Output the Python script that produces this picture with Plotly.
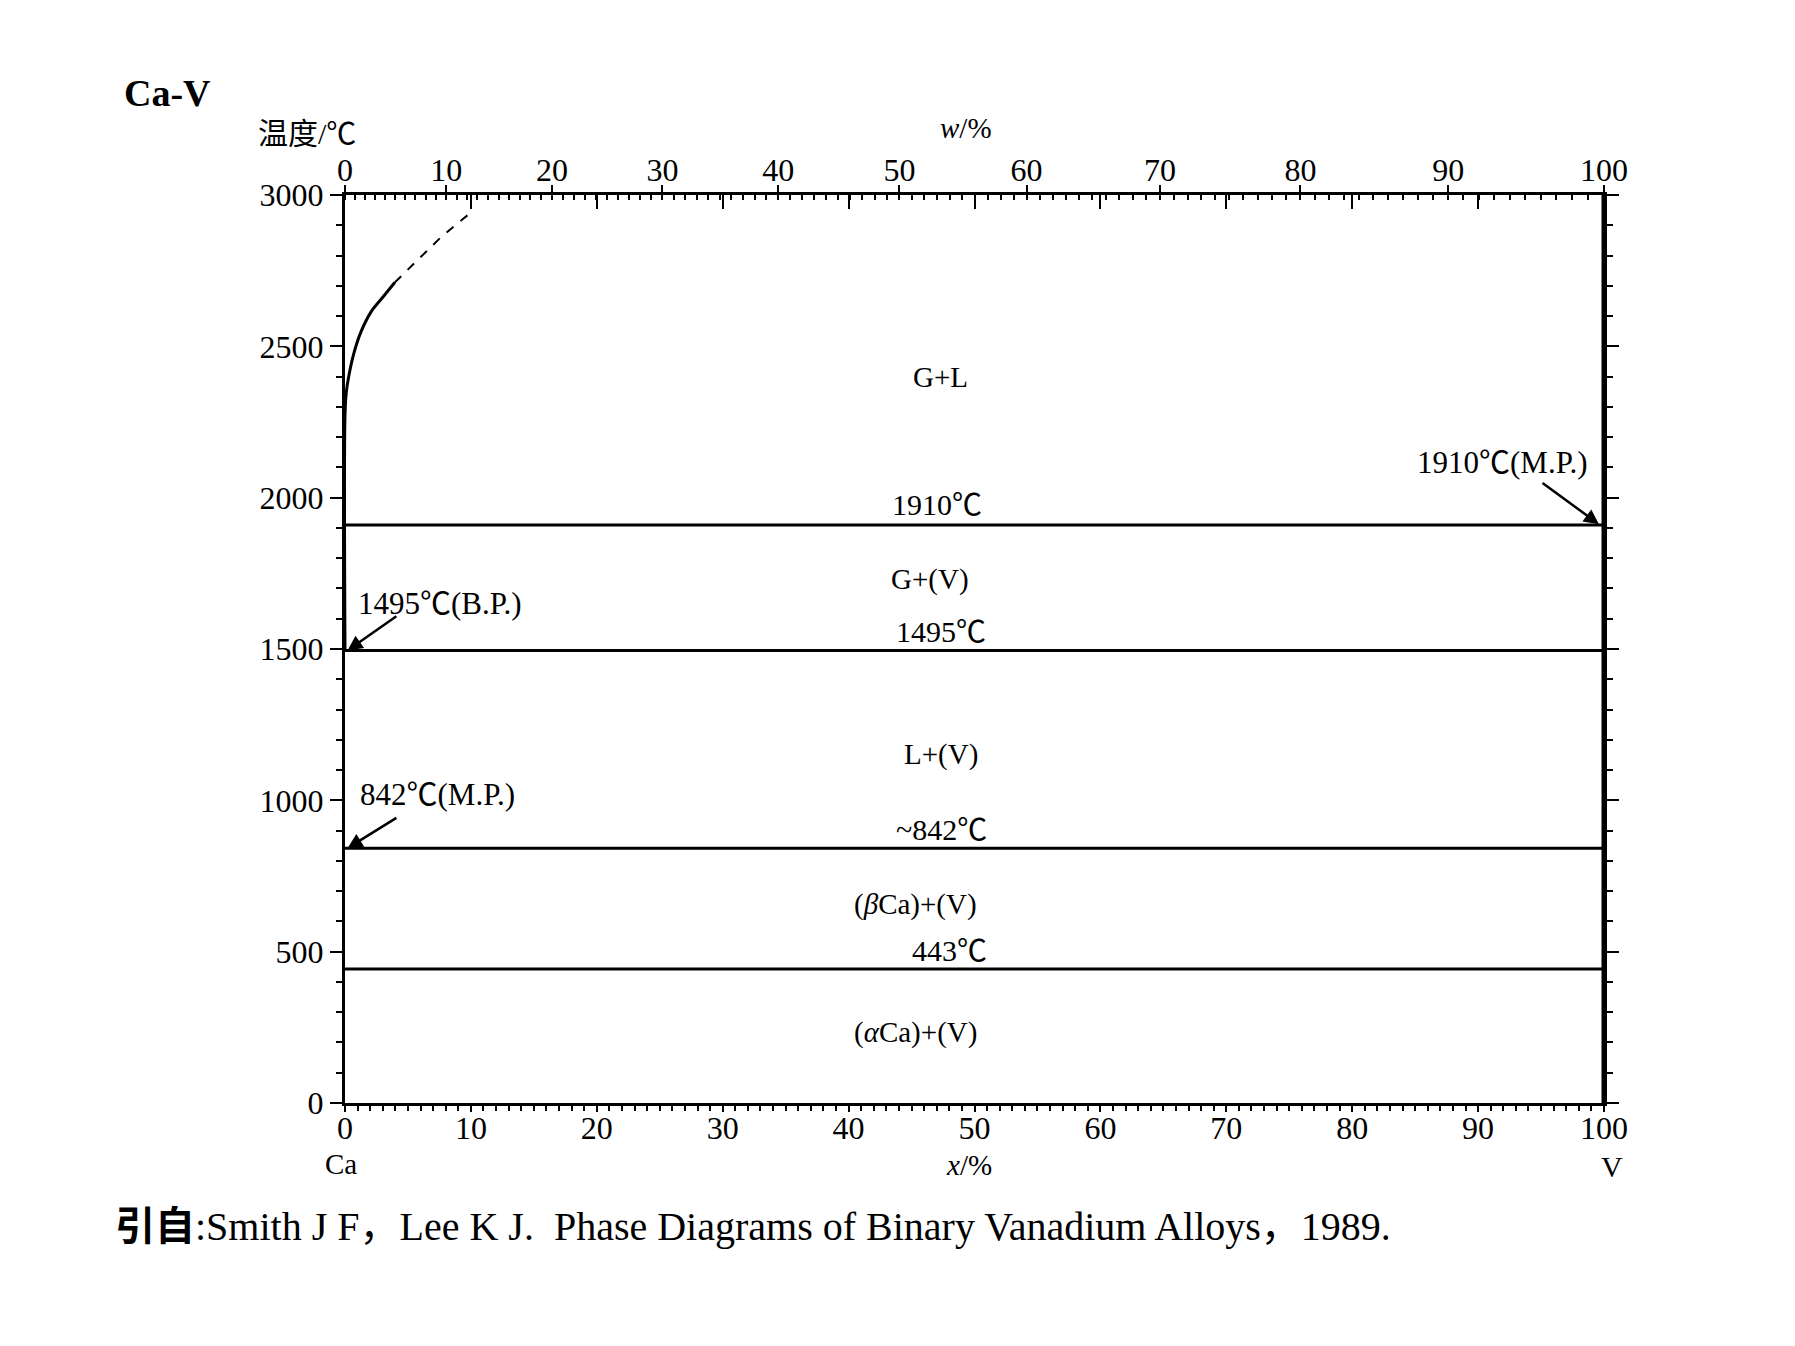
import plotly.graph_objects as go

# Ca-V phase diagram (Smith & Lee, 1989)
M_CA = 40.08
M_V = 50.94

# G+L boundary, at% V vs temperature
gl_solid_x = [0, 0, 0.1, 0.32, 0.73, 1.26, 2.07, 3.0, 3.95]
gl_solid_t = [1495, 2273, 2347, 2406, 2481, 2547, 2614, 2662, 2711]
gl_dash_x = [3.95, 5.43, 7.58, 9.73]
gl_dash_t = [2711, 2770, 2859, 2933]

# invariant horizontals
iso_temps = [1910, 1495, 842, 443]
iso_x = [0, 100]

# pure V line
v_x = [100, 100]
v_t = [0, 3000]

# phase region labels
region_labels = ["G+L", "G+(V)", "L+(V)", "(<i>β</i>Ca)+(V)", "(<i>α</i>Ca)+(V)"]
region_x = [47.3, 46.5, 47.3, 45.3, 45.3]
region_t = [2400, 1731, 1153, 657, 233]

iso_labels = ["1910℃", "1495℃", "~842℃", "443℃"]
iso_label_x = [47.0, 47.3, 47.4, 48.0]
iso_label_t = [1979, 1558, 905, 503]

# top axis in mass percent
w_ticks = [0, 10, 20, 30, 40, 50, 60, 70, 80, 90, 100]
w_minor = list(range(0, 101))

x_ticks = [0, 10, 20, 30, 40, 50, 60, 70, 80, 90, 100]
t_ticks = [0, 500, 1000, 1500, 2000, 2500, 3000]


def w_to_x(w):
    a = w / M_V
    b = (100 - w) / M_CA
    return 100 * a / (a + b)


FONT = "Liberation Serif, Noto Sans CJK SC, serif"

fig = go.Figure()

fig.add_trace(go.Scatter(x=gl_solid_x, y=gl_solid_t, mode="lines",
                         line=dict(color="black", width=3, shape="spline")))
fig.add_trace(go.Scatter(x=gl_dash_x, y=gl_dash_t, mode="lines",
                         line=dict(color="black", width=2, dash="dash")))
for t in iso_temps:
    fig.add_trace(go.Scatter(x=iso_x, y=[t, t], mode="lines",
                             line=dict(color="black", width=3)))
fig.add_trace(go.Scatter(x=v_x, y=v_t, mode="lines",
                         line=dict(color="black", width=5)))
# dummy for top axes
fig.add_trace(go.Scatter(x=[0, 100], y=[0, 0], xaxis="x2", mode="lines",
                         line=dict(width=0), hoverinfo="skip"))
fig.add_trace(go.Scatter(x=[0, 100], y=[0, 0], xaxis="x3", mode="lines",
                         line=dict(width=0), hoverinfo="skip"))

for txt, x, t in zip(region_labels, region_x, region_t):
    fig.add_annotation(x=x, y=t, text=txt, showarrow=False,
                       font=dict(size=29, family=FONT, color="black"))
for txt, x, t in zip(iso_labels, iso_label_x, iso_label_t):
    fig.add_annotation(x=x, y=t, text=txt, showarrow=False,
                       font=dict(size=30, family=FONT, color="black"))

# melting / boiling point notes with arrows
notes = [("1495℃(B.P.)", 0.2, 1495, 4.2, 1612, 0.9, 1650, "left"),
         ("842℃(M.P.)", 0.2, 842, 4.2, 945, 1.0, 1020, "left"),
         ("1910℃(M.P.)", 99.6, 1912, 95.0, 2052, 98.9, 2115, "right")]
for txt, hx, ht, tx, tt, lx, lt, anc in notes:
    fig.add_annotation(x=hx, y=ht, ax=tx, ay=tt, axref="x", ayref="y",
                       text="", showarrow=True, arrowhead=2, arrowsize=1.2,
                       arrowwidth=2.5, arrowcolor="black")
    fig.add_annotation(x=lx, y=lt, text=txt, showarrow=False, xanchor=anc,
                       font=dict(size=31, family=FONT, color="black"))

paper_texts = [
    ("<b>Ca-V</b>", -0.141, 1.112, 38, "center"),
    ("温度/℃", -0.030, 1.068, 30, "center"),
    ("<i>w</i>/%", 0.493, 1.074, 29, "center"),
    ("Ca", -0.003, -0.067, 29, "center"),
    ("<i>x</i>/%", 0.496, -0.068, 29, "center"),
    ("V", 1.006, -0.070, 30, "center"),
    ("<b>引自</b>:Smith J F，Lee K J.  Phase Diagrams of Binary Vanadium Alloys，1989.",
     -0.184, -0.136, 40, "left"),
]
for txt, x, y, s, anc in paper_texts:
    fig.add_annotation(x=x, y=y, xref="paper", yref="paper", text=txt,
                       showarrow=False, xanchor=anc, yanchor="middle",
                       font=dict(size=s, family=FONT, color="black"))

tickfont = dict(size=32, family=FONT, color="black")

fig.update_layout(
    width=1795, height=1346,
    margin=dict(l=337, r=199, t=187, b=251),
    paper_bgcolor="white", plot_bgcolor="white",
    showlegend=False,
    xaxis=dict(range=[0, 100], tickvals=x_ticks, showgrid=False, zeroline=False,
               showline=True, linecolor="black", linewidth=2.5,
               ticks="outside", ticklen=6, tickwidth=2, tickcolor="black",
               tickfont=tickfont, ticklabelstandoff=-11,
               minor=dict(dtick=1, ticks="outside", ticklen=5, tickwidth=1.5,
                          tickcolor="black", showgrid=False)),
    xaxis2=dict(range=[0, 100], overlaying="x", side="top",
                tickvals=[w_to_x(w) for w in w_ticks],
                ticktext=[str(w) for w in w_ticks],
                showgrid=False, zeroline=False,
                showline=True, linecolor="black", linewidth=2.5,
                ticks="outside", ticklen=7, tickwidth=2, tickcolor="black",
                tickfont=tickfont, ticklabelstandoff=-9,
                minor=dict(tickmode="array", tickvals=[w_to_x(w) for w in w_minor],
                           ticks="inside", ticklen=5, tickwidth=1.5,
                           tickcolor="black", showgrid=False)),
    xaxis3=dict(range=[0, 100], overlaying="x", side="top",
                tickvals=x_ticks[1:-1], showticklabels=False,
                showgrid=False, zeroline=False, showline=False,
                ticks="inside", ticklen=14, tickwidth=2, tickcolor="black"),
    yaxis=dict(range=[0, 3000], tickvals=t_ticks, showgrid=False, zeroline=False,
               showline=True, linecolor="black", linewidth=3, mirror="ticks",
               ticks="outside", ticklen=12, tickwidth=2, tickcolor="black",
               tickfont=tickfont,
               minor=dict(dtick=100, ticks="outside", ticklen=6, tickwidth=2,
                          tickcolor="black", showgrid=False)),
)

fig.write_html("out.html")
